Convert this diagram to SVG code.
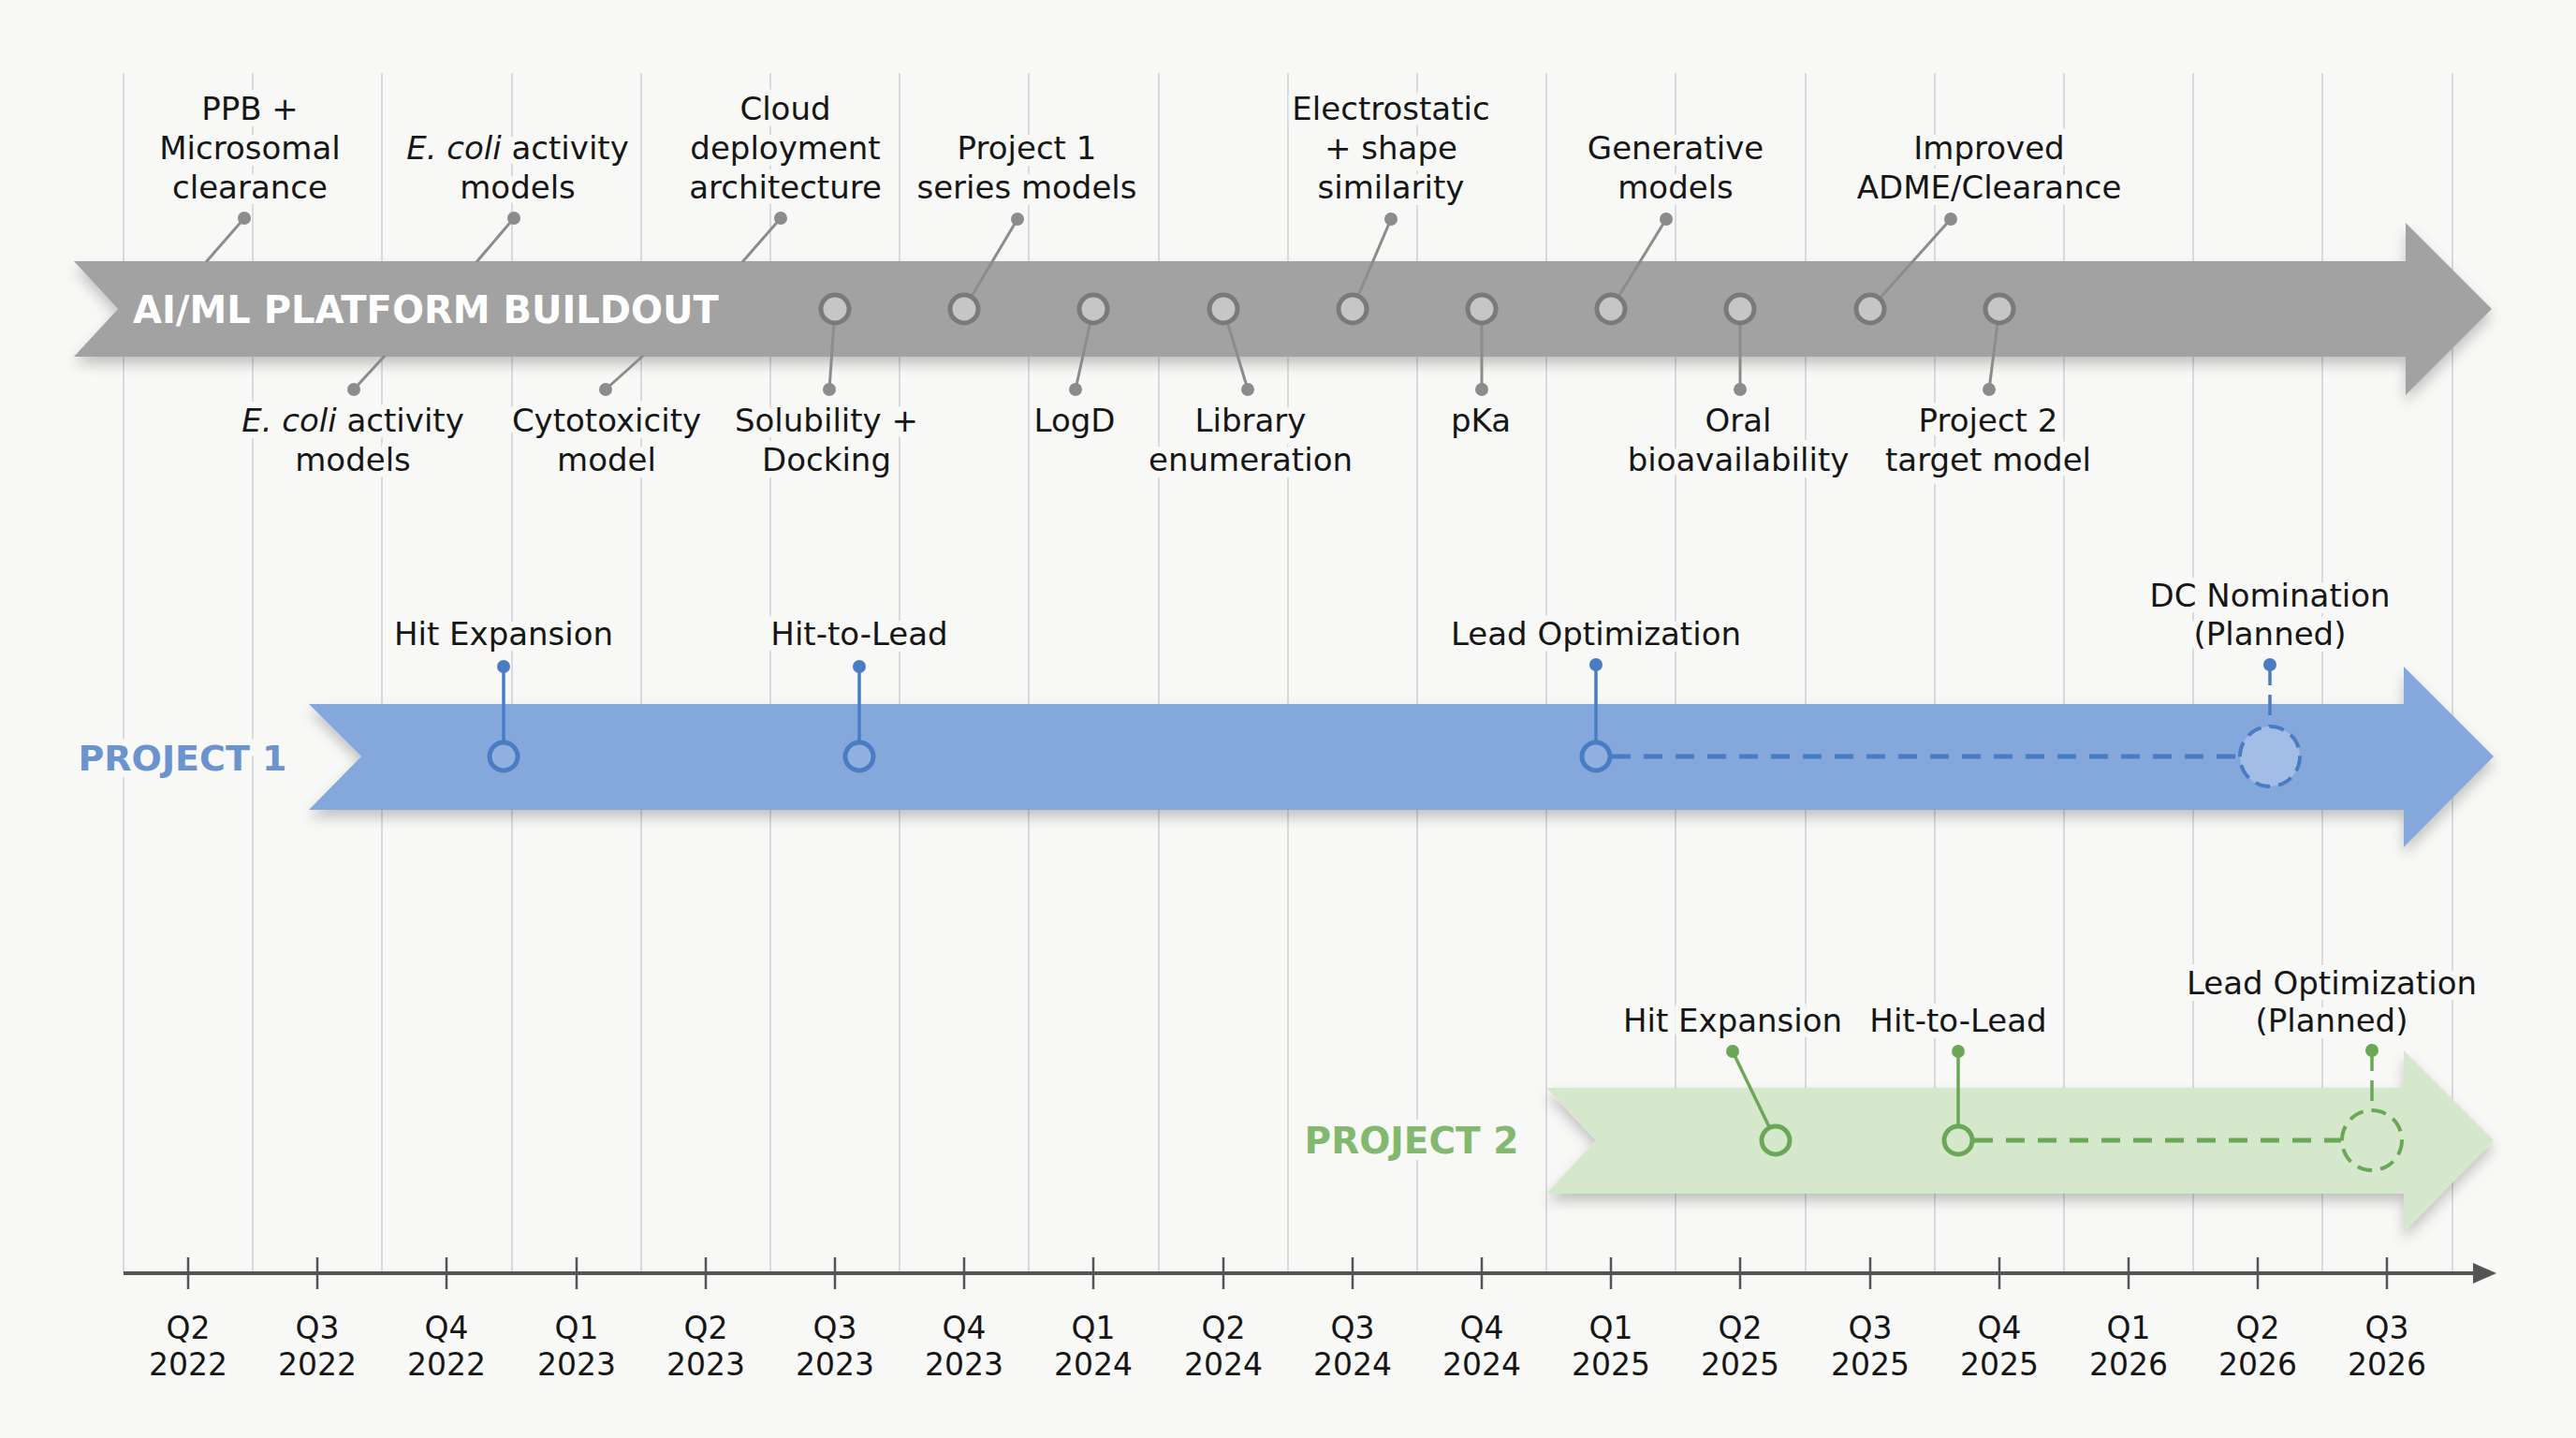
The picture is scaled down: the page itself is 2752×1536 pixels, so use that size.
<svg xmlns="http://www.w3.org/2000/svg" width="2752" height="1536" viewBox="0 0 2752 1536">
<defs>
<style>
.lbl{font-family:"DejaVu Sans","Liberation Sans",sans-serif;font-size:34px;fill:#161616;text-anchor:middle;paint-order:stroke;stroke:#f8f8f6;stroke-width:14px;stroke-linejoin:round}
.q{font-family:"DejaVu Sans","Liberation Sans",sans-serif;font-size:33px;fill:#161616;text-anchor:middle}
.grid{stroke:#dadadd;stroke-width:2}
.gl{stroke:#8c8c8c;stroke-width:3;fill:none}
.gd{fill:#8c8c8c}
.gc{fill:#c6c6c6;stroke:#7a7a7a;stroke-width:5}
.bl{stroke:#4a7cc4;stroke-width:3.5;fill:none}
.bd{fill:#4a7cc4}
.bc{fill:#8fb0e0;stroke:#4a7cc4;stroke-width:5}
.gnl{stroke:#6aa857;stroke-width:3.5;fill:none}
.gnd{fill:#6aa857}
.gnc{fill:#d5e8cc;stroke:#6aa857;stroke-width:5}
.dash{stroke-dasharray:20 14;stroke-width:5}
.band-title{font-family:"DejaVu Sans","Liberation Sans",sans-serif;font-weight:bold}
</style>
<filter id="sh" x="-5%" y="-30%" width="110%" height="170%">
<feDropShadow dx="0" dy="8" stdDeviation="7" flood-color="#000" flood-opacity="0.22"/>
</filter>
</defs>
<rect width="2752" height="1536" fill="#f8f8f6"/>
<g id="grid">
<line class="grid" x1="132" y1="78" x2="132" y2="1360"/>
<line class="grid" x1="270" y1="78" x2="270" y2="1360"/>
<line class="grid" x1="408" y1="78" x2="408" y2="1360"/>
<line class="grid" x1="547" y1="78" x2="547" y2="1360"/>
<line class="grid" x1="685" y1="78" x2="685" y2="1360"/>
<line class="grid" x1="823" y1="78" x2="823" y2="1360"/>
<line class="grid" x1="961" y1="78" x2="961" y2="1360"/>
<line class="grid" x1="1099" y1="78" x2="1099" y2="1360"/>
<line class="grid" x1="1238" y1="78" x2="1238" y2="1360"/>
<line class="grid" x1="1376" y1="78" x2="1376" y2="1360"/>
<line class="grid" x1="1514" y1="78" x2="1514" y2="1360"/>
<line class="grid" x1="1652" y1="78" x2="1652" y2="1360"/>
<line class="grid" x1="1790" y1="78" x2="1790" y2="1360"/>
<line class="grid" x1="1929" y1="78" x2="1929" y2="1360"/>
<line class="grid" x1="2067" y1="78" x2="2067" y2="1360"/>
<line class="grid" x1="2205" y1="78" x2="2205" y2="1360"/>
<line class="grid" x1="2343" y1="78" x2="2343" y2="1360"/>
<line class="grid" x1="2481" y1="78" x2="2481" y2="1360"/>
<line class="grid" x1="2620" y1="78" x2="2620" y2="1360"/>
</g>
<g id="axis">
<line x1="132" y1="1360" x2="2648" y2="1360" stroke="#555" stroke-width="4"/>
<polygon points="2642,1349 2667,1360 2642,1371" fill="#555"/>
<g stroke="#555" stroke-width="2.5">
<line x1="201" y1="1343" x2="201" y2="1377"/><line x1="339" y1="1343" x2="339" y2="1377"/>
<line x1="477" y1="1343" x2="477" y2="1377"/><line x1="616" y1="1343" x2="616" y2="1377"/>
<line x1="754" y1="1343" x2="754" y2="1377"/><line x1="892" y1="1343" x2="892" y2="1377"/>
<line x1="1030" y1="1343" x2="1030" y2="1377"/><line x1="1168" y1="1343" x2="1168" y2="1377"/>
<line x1="1307" y1="1343" x2="1307" y2="1377"/><line x1="1445" y1="1343" x2="1445" y2="1377"/>
<line x1="1583" y1="1343" x2="1583" y2="1377"/><line x1="1721" y1="1343" x2="1721" y2="1377"/>
<line x1="1859" y1="1343" x2="1859" y2="1377"/><line x1="1998" y1="1343" x2="1998" y2="1377"/>
<line x1="2136" y1="1343" x2="2136" y2="1377"/><line x1="2274" y1="1343" x2="2274" y2="1377"/>
<line x1="2412" y1="1343" x2="2412" y2="1377"/><line x1="2550" y1="1343" x2="2550" y2="1377"/>
</g>
<text class="q" x="201" y="1430">Q2</text><text class="q" x="201" y="1469">2022</text>
<text class="q" x="339" y="1430">Q3</text><text class="q" x="339" y="1469">2022</text>
<text class="q" x="477" y="1430">Q4</text><text class="q" x="477" y="1469">2022</text>
<text class="q" x="616" y="1430">Q1</text><text class="q" x="616" y="1469">2023</text>
<text class="q" x="754" y="1430">Q2</text><text class="q" x="754" y="1469">2023</text>
<text class="q" x="892" y="1430">Q3</text><text class="q" x="892" y="1469">2023</text>
<text class="q" x="1030" y="1430">Q4</text><text class="q" x="1030" y="1469">2023</text>
<text class="q" x="1168" y="1430">Q1</text><text class="q" x="1168" y="1469">2024</text>
<text class="q" x="1307" y="1430">Q2</text><text class="q" x="1307" y="1469">2024</text>
<text class="q" x="1445" y="1430">Q3</text><text class="q" x="1445" y="1469">2024</text>
<text class="q" x="1583" y="1430">Q4</text><text class="q" x="1583" y="1469">2024</text>
<text class="q" x="1721" y="1430">Q1</text><text class="q" x="1721" y="1469">2025</text>
<text class="q" x="1859" y="1430">Q2</text><text class="q" x="1859" y="1469">2025</text>
<text class="q" x="1998" y="1430">Q3</text><text class="q" x="1998" y="1469">2025</text>
<text class="q" x="2136" y="1430">Q4</text><text class="q" x="2136" y="1469">2025</text>
<text class="q" x="2274" y="1430">Q1</text><text class="q" x="2274" y="1469">2026</text>
<text class="q" x="2412" y="1430">Q2</text><text class="q" x="2412" y="1469">2026</text>
<text class="q" x="2550" y="1430">Q3</text><text class="q" x="2550" y="1469">2026</text>
</g>
<g id="band-platform">
<polygon points="79,279 2570,279 2570,238 2662,330 2570,422 2570,381 79,381 126,330" fill="#a2a2a2" filter="url(#sh)"/>
<text class="band-title" x="142" y="345" font-size="40" fill="#ffffff">AI/ML PLATFORM BUILDOUT</text>
</g>
<g id="band-project1">
<polygon points="330,752 2568,752 2568,712 2664,808 2568,905 2568,865 330,865 386,808" fill="#85a8dc" filter="url(#sh)"/>
<text class="band-title" x="195" y="823" font-size="38" fill="#6b93d0" text-anchor="middle" paint-order="stroke" stroke="#f8f8f6" stroke-width="14" stroke-linejoin="round">PROJECT 1</text>
</g>
<g id="band-project2">
<polygon points="1652,1162 2568,1162 2568,1122 2664,1218 2568,1316 2568,1275 1652,1275 1705,1218" fill="#d5e8cc" filter="url(#sh)"/>
<text class="band-title" x="1508" y="1232" font-size="39" fill="#82b96e" text-anchor="middle" paint-order="stroke" stroke="#f8f8f6" stroke-width="14" stroke-linejoin="round">PROJECT 2</text>
</g>
<g id="connectors">
<line class="gl" x1="261" y1="233" x2="220" y2="280"/>
<line class="gl" x1="549" y1="233" x2="509" y2="280"/>
<line class="gl" x1="834" y1="233" x2="793" y2="280"/>
<line class="gl" x1="1087" y1="234" x2="1030" y2="330"/>
<line class="gl" x1="1486" y1="234" x2="1445" y2="330"/>
<line class="gl" x1="1780" y1="234" x2="1721" y2="330"/>
<line class="gl" x1="2084" y1="234" x2="1998" y2="330"/>
<line class="gl" x1="411" y1="380" x2="378" y2="416"/>
<line class="gl" x1="687" y1="380" x2="647" y2="416"/>
<line class="gl" x1="892" y1="330" x2="886" y2="416"/>
<line class="gl" x1="1168" y1="330" x2="1149" y2="416"/>
<line class="gl" x1="1307" y1="330" x2="1333" y2="416"/>
<line class="gl" x1="1583" y1="330" x2="1583" y2="416"/>
<line class="gl" x1="1859" y1="330" x2="1859" y2="416"/>
<line class="gl" x1="2136" y1="330" x2="2125" y2="416"/>
<line class="bl" x1="538" y1="712" x2="538" y2="808"/>
<line class="bl" x1="918" y1="712" x2="918" y2="808"/>
<line class="bl" x1="1705" y1="710" x2="1705" y2="808"/>
<line class="bl dash" x1="1722" y1="808" x2="2392" y2="808"/>
<line class="bl" x1="2425" y1="710" x2="2425" y2="776" stroke-dasharray="22 10"/>
<line class="gnl" x1="1851" y1="1123" x2="1897" y2="1218"/>
<line class="gnl" x1="2092" y1="1123" x2="2092" y2="1218"/>
<line class="gnl dash" x1="2109" y1="1218" x2="2501" y2="1218"/>
<line class="gnl" x1="2534" y1="1122" x2="2534" y2="1186" stroke-dasharray="22 10"/>
</g>
<g id="m-ppb"><circle class="gd" cx="261" cy="233" r="7"/><text class="lbl" x="267" y="128">PPB +</text><text class="lbl" x="267" y="170">Microsomal</text><text class="lbl" x="267" y="212">clearance</text></g>
<g id="m-ecoli-top"><circle class="gd" cx="549" cy="233" r="7"/><text class="lbl" x="553" y="170"><tspan font-style="italic">E. coli</tspan> activity</text><text class="lbl" x="553" y="212">models</text></g>
<g id="m-cloud"><circle class="gd" cx="834" cy="233" r="7"/><text class="lbl" x="839" y="128">Cloud</text><text class="lbl" x="839" y="170">deployment</text><text class="lbl" x="839" y="212">architecture</text></g>
<g id="m-project1-series"><circle class="gd" cx="1087" cy="234" r="7"/><circle class="gc" cx="1030" cy="330" r="15"/><text class="lbl" x="1097" y="170">Project 1</text><text class="lbl" x="1097" y="212">series models</text></g>
<g id="m-electrostatic"><circle class="gd" cx="1486" cy="234" r="7"/><circle class="gc" cx="1445" cy="330" r="15"/><text class="lbl" x="1486" y="128">Electrostatic</text><text class="lbl" x="1486" y="170">+ shape</text><text class="lbl" x="1486" y="212">similarity</text></g>
<g id="m-generative"><circle class="gd" cx="1780" cy="234" r="7"/><circle class="gc" cx="1721" cy="330" r="15"/><text class="lbl" x="1790" y="170">Generative</text><text class="lbl" x="1790" y="212">models</text></g>
<g id="m-adme"><circle class="gd" cx="2084" cy="234" r="7"/><circle class="gc" cx="1998" cy="330" r="15"/><text class="lbl" x="2125" y="170">Improved</text><text class="lbl" x="2125" y="212">ADME/Clearance</text></g>
<g id="m-ecoli-bottom"><circle class="gd" cx="378" cy="416" r="7"/><text class="lbl" x="377" y="461"><tspan font-style="italic">E. coli</tspan> activity</text><text class="lbl" x="377" y="503">models</text></g>
<g id="m-cytotox"><circle class="gd" cx="647" cy="416" r="7"/><text class="lbl" x="648" y="461">Cytotoxicity</text><text class="lbl" x="648" y="503">model</text></g>
<g id="m-solubility"><circle class="gd" cx="886" cy="416" r="7"/><circle class="gc" cx="892" cy="330" r="15"/><text class="lbl" x="883" y="461">Solubility +</text><text class="lbl" x="883" y="503">Docking</text></g>
<g id="m-logd"><circle class="gd" cx="1149" cy="416" r="7"/><circle class="gc" cx="1168" cy="330" r="15"/><text class="lbl" x="1148" y="461">LogD</text></g>
<g id="m-library"><circle class="gd" cx="1333" cy="416" r="7"/><circle class="gc" cx="1307" cy="330" r="15"/><text class="lbl" x="1336" y="461">Library</text><text class="lbl" x="1336" y="503">enumeration</text></g>
<g id="m-pka"><circle class="gd" cx="1583" cy="416" r="7"/><circle class="gc" cx="1583" cy="330" r="15"/><text class="lbl" x="1582" y="461">pKa</text></g>
<g id="m-oral"><circle class="gd" cx="1859" cy="416" r="7"/><circle class="gc" cx="1859" cy="330" r="15"/><text class="lbl" x="1857" y="461">Oral</text><text class="lbl" x="1857" y="503">bioavailability</text></g>
<g id="m-project2-target"><circle class="gd" cx="2125" cy="416" r="7"/><circle class="gc" cx="2136" cy="330" r="15"/><text class="lbl" x="2124" y="461">Project 2</text><text class="lbl" x="2124" y="503">target model</text></g>
<g id="p1-hit-expansion"><circle class="bd" cx="538" cy="712" r="7"/><circle class="bc" cx="538" cy="808" r="15"/><text class="lbl" x="538" y="689">Hit Expansion</text></g>
<g id="p1-hit-to-lead"><circle class="bd" cx="918" cy="712" r="7"/><circle class="bc" cx="918" cy="808" r="15"/><text class="lbl" x="918" y="689">Hit-to-Lead</text></g>
<g id="p1-lead-opt"><circle class="bd" cx="1705" cy="710" r="7"/><circle class="bc" cx="1705" cy="808" r="15"/><text class="lbl" x="1705" y="689">Lead Optimization</text></g>
<g id="p1-dc-nomination"><circle class="bd" cx="2425" cy="710" r="7"/><circle cx="2425" cy="808" r="32" fill="#a3bee6" stroke="#4a7cc4" stroke-width="4" stroke-dasharray="16 9"/><text class="lbl" x="2425" y="648">DC Nomination</text><text class="lbl" x="2425" y="689">(Planned)</text></g>
<g id="p2-hit-expansion"><circle class="gnd" cx="1851" cy="1123" r="7"/><circle class="gnc" cx="1897" cy="1218" r="15"/><text class="lbl" x="1851" y="1102">Hit Expansion</text></g>
<g id="p2-hit-to-lead"><circle class="gnd" cx="2092" cy="1123" r="7"/><circle class="gnc" cx="2092" cy="1218" r="15"/><text class="lbl" x="2092" y="1102">Hit-to-Lead</text></g>
<g id="p2-lead-opt"><circle class="gnd" cx="2534" cy="1122" r="7"/><circle cx="2534" cy="1218" r="32" fill="#d5e8cc" stroke="#6aa857" stroke-width="4" stroke-dasharray="16 9"/><text class="lbl" x="2491" y="1062">Lead Optimization</text><text class="lbl" x="2491" y="1102">(Planned)</text></g>
</svg>
